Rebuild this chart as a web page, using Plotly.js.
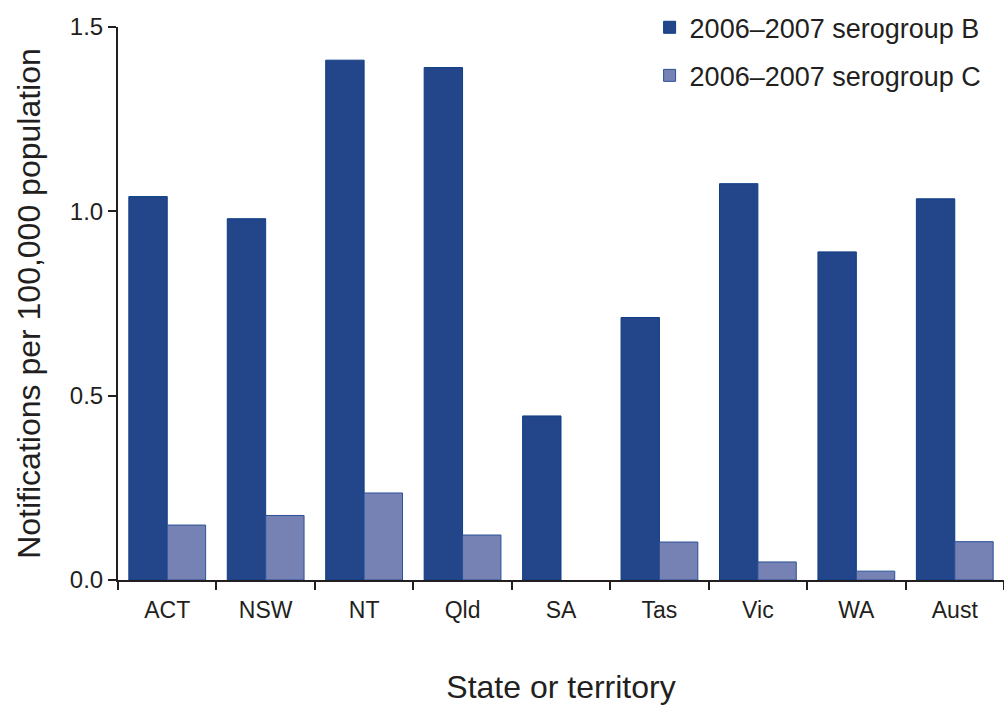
<!DOCTYPE html>
<html><head><meta charset="utf-8">
<script src="https://cdn.plot.ly/plotly-3.0.1.min.js"></script>
<style>html,body{margin:0;padding:0;background:#fff}#chart{width:1004px;height:705px}</style>
</head><body><div id="chart"></div>
<script>
const categories = ["ACT","NSW","NT","Qld","SA","Tas","Vic","WA","Aust"];
const serogroupB = [1.04,0.98,1.41,1.39,0.445,0.712,1.075,0.89,1.034];
const serogroupC = [0.149,0.175,0.236,0.122,0,0.103,0.049,0.024,0.104];
const yTicks = [0,0.5,1.0,1.5];
const yTickLabels = ["0.0","0.5","1.0","1.5"];

const traces = [
  {type:"bar", name:"2006\u20132007 serogroup B", x:categories, y:serogroupB, legendgroup:"b",
   marker:{color:"#23458A", line:{color:"#0F3E86", width:serogroupB.map(v => v > 0 ? 1 : 0)}}},
  {type:"bar", name:"2006\u20132007 serogroup C", x:categories, y:serogroupC, legendgroup:"c",
   marker:{color:"#7682B3", line:{color:"#2B5196", width:serogroupC.map(v => v > 0 ? 1 : 0)}}}
];
const layout = {
  width:1004, height:705,
  margin:{l:118, r:0, t:27, b:125},
  paper_bgcolor:"#fff", plot_bgcolor:"#fff",
  font:{family:"Liberation Sans, Arial, sans-serif", color:"#231F20"},
  barmode:"group", bargap:0.22, bargroupgap:0,
  showlegend:true,
  legend:{x:0.6, xanchor:"left", y:1.043, yanchor:"top", font:{size:27, color:"#231F20"},
          tracegroupgap:10, traceorder:"grouped", bgcolor:"rgba(0,0,0,0)", itemwidth:30},
  xaxis:{type:"category", showline:true, linecolor:"#231F20", linewidth:2,
         ticks:"outside", tickson:"boundaries", ticklen:8, tickwidth:2, tickcolor:"#231F20",
         tickfont:{size:23}, ticklabelstandoff:8, showgrid:false, zeroline:false,
         title:{text:"State or territory", font:{size:32}, standoff:58}},
  yaxis:{range:[0,1.5], showline:true, linecolor:"#231F20", linewidth:2,
         ticks:"outside", ticklen:8, tickwidth:2, tickcolor:"#231F20",
         tickvals:yTicks, ticktext:yTickLabels, tickfont:{size:24},
         showgrid:false, zeroline:false,
         title:{text:"Notifications per 100,000 population", font:{size:32}, standoff:20}}
};
Plotly.newPlot("chart", traces, layout, {displayModeBar:false, staticPlot:true});
</script></body></html>
